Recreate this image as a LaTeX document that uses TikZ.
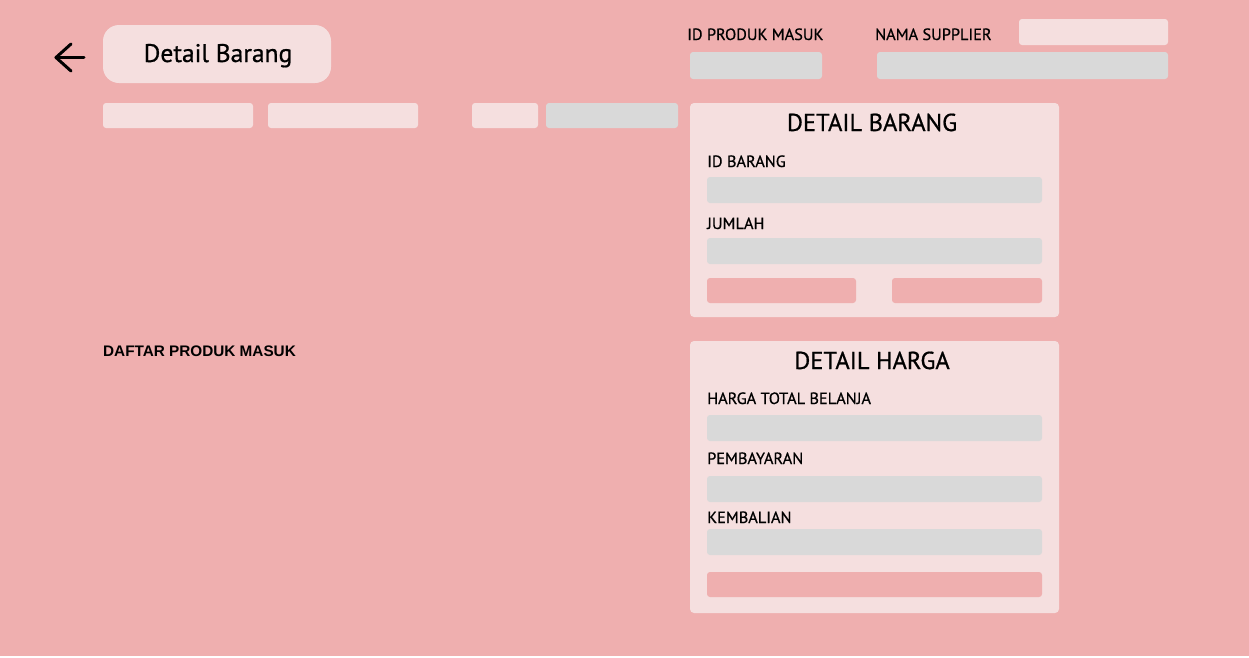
\documentclass[tikz,border=0pt]{standalone}
\usepackage{fontspec}
\setmainfont[FakeBold=0.7]{PT Sans}
\newfontfamily\daftarfont{Liberation Sans}
\usepackage{tikz}
\usetikzlibrary{positioning}
\definecolor{mockpink}{RGB}{239, 175, 175}
\definecolor{mocklight}{RGB}{245, 223, 223}
\definecolor{mockgrey}{RGB}{217, 217, 217}

\begin{document}
\begin{tikzpicture}[x=1pt, y=-1pt,
    lightbox/.style={fill=mocklight, rounded corners=3pt},
    greybox/.style={fill=mockgrey, rounded corners=3pt},
    pinkbtn/.style={fill=mockpink, rounded corners=3pt},
    panelbox/.style={fill=mocklight, rounded corners=4pt},
    fieldlabel/.style={anchor=base west, inner sep=0pt, font=\fontsize{16.3}{18}\selectfont},
    paneltitle/.style={anchor=base, inner sep=0pt, font=\fontsize{24.5}{28}\selectfont}]
    % Background
    \fill[mockpink] (0,0) rectangle (1249,657);
    \useasboundingbox (0,0) rectangle (1249,657);
    \fill[white] (0,656) rectangle (1249,657);

    % Back arrow and title
    \draw[line width=3pt, line cap=round, line join=round] (84,57.5) -- (56,57.5);
    \draw[line width=3pt, line cap=round, line join=round] (71,44) -- (56,57.5) -- (71,71);
    \fill[mocklight, rounded corners=16pt] (103,25) rectangle (331,83);
    \node[anchor=base, inner sep=0pt, font=\fontsize{25.5}{30}\selectfont] (pagetitle) at (218,62) {Detail Barang};

    % Row of small boxes
    \fill[lightbox] (103,103) rectangle (253,128);
    \fill[lightbox] (268,103) rectangle (418,128);
    \fill[lightbox] (472,103) rectangle (538,128);
    \fill[greybox] (546,103) rectangle (678,128);

    % Header fields
    \node[fieldlabel] (idproduk) at (687,40) {ID PRODUK MASUK};
    \node[fieldlabel] (supplier) at (875,40) {NAMA SUPPLIER};
    \fill[lightbox] (1019,19) rectangle (1168,45);
    \fill[greybox] (690,52) rectangle (822,79);
    \fill[greybox] (877,52) rectangle (1168,79);

    % Detail Barang panel
    \fill[panelbox] (690,103) rectangle (1059,317);
    \node[paneltitle] (barangtitle) at (872,131) {DETAIL BARANG};
    \node[fieldlabel] (idbarang) at (707,167) {ID BARANG};
    \fill[greybox] (707,177) rectangle (1042,203);
    \node[fieldlabel] (jumlah) at (707,229) {JUMLAH};
    \fill[greybox] (707,238) rectangle (1042,264);
    \fill[pinkbtn] (707,278) rectangle (856,303);
    \fill[pinkbtn] (892,278) rectangle (1042,303);

    % Daftar produk
    \node[anchor=base west, inner sep=0pt, font=\daftarfont\bfseries\fontsize{15.3}{18}\selectfont] (daftar) at (103,356.5) {DAFTAR PRODUK MASUK};

    % Detail Harga panel
    \fill[panelbox] (690,341) rectangle (1059,613);
    \node[paneltitle] (hargatitle) at (872,369) {DETAIL HARGA};
    \node[fieldlabel] (total) at (707,404) {HARGA TOTAL BELANJA};
    \fill[greybox] (707,415) rectangle (1042,441);
    \node[fieldlabel] (bayar) at (707,464) {PEMBAYARAN};
    \fill[greybox] (707,476) rectangle (1042,502);
    \node[fieldlabel] (kembali) at (707,523) {KEMBALIAN};
    \fill[greybox] (707,529) rectangle (1042,555);
    \fill[pinkbtn] (707,572) rectangle (1042,597);
\end{tikzpicture}
\end{document}
